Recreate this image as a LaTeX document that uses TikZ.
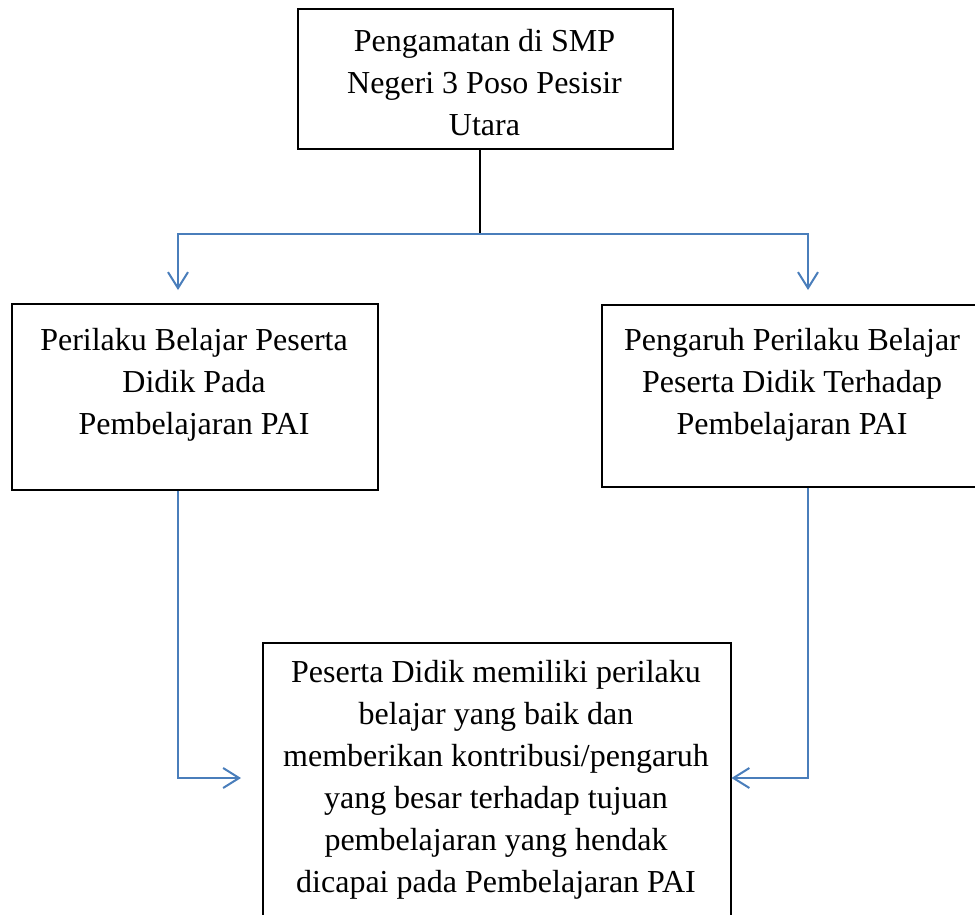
\documentclass[tikz,border=0pt]{standalone}
\usepackage{fontspec}
\setmainfont{Liberation Serif}
\usetikzlibrary{arrows.meta}
\definecolor{conn}{RGB}{74,126,187}
\begin{document}
\begin{tikzpicture}[x=1pt,y=-1pt,
  boxst/.style={draw=black,line width=1.5pt,inner sep=0pt,anchor=north west},
  txt/.style={inner sep=0pt,anchor=base,font=\fontsize{32}{42}\selectfont},
  link/.style={draw=conn,line width=2pt},
  arr/.style={link,-{Straight Barb[length=16pt,width=20pt]}}]
\useasboundingbox (0,0) rectangle (975,914);
\clip (0,0) rectangle (975,914);
% boxes
\node[boxst,minimum width=375pt,minimum height=140pt] (top) at (297,8) {};
\node[boxst,minimum width=366pt,minimum height=186pt] (left) at (11,303) {};
\node[boxst,minimum width=382pt,minimum height=182pt] (right) at (601,304) {};
\node[boxst,minimum width=468pt,minimum height=300pt] (goal) at (262,642) {};
% texts
\node[txt] (toptxt) at (484.5,51) {\parbox[t]{360pt}{\centering Pengamatan di SMP\\Negeri 3 Poso Pesisir\\Utara}};
\node[txt] (lefttxt) at (194,350) {\parbox[t]{360pt}{\centering Perilaku Belajar Peserta\\Didik Pada\\Pembelajaran PAI}};
\node[txt] (righttxt) at (792,350) {\parbox[t]{370pt}{\centering Pengaruh Perilaku Belajar\\Peserta Didik Terhadap\\Pembelajaran PAI}};
\node[txt] (goaltxt) at (496,682) {\parbox[t]{462pt}{\centering Peserta Didik memiliki perilaku\\belajar yang baik dan\\memberikan kontribusi/pengaruh\\yang besar terhadap tujuan\\pembelajaran yang hendak\\dicapai pada Pembelajaran PAI}};
% connectors
\coordinate (j) at (480,234);
\coordinate (la) at (178,290);
\coordinate (ra) at (808,290);
\coordinate (lb) at (241,778);
\draw[line width=1.8pt] (top.south -| j) -- (j);
\draw[arr] (j) -| (la);
\draw[arr] (j) -| (ra);
\draw[arr] (left.south -| la) |- (lb);
\draw[arr] (right.south -| ra) |- (goal.east |- lb);
\end{tikzpicture}
\end{document}
